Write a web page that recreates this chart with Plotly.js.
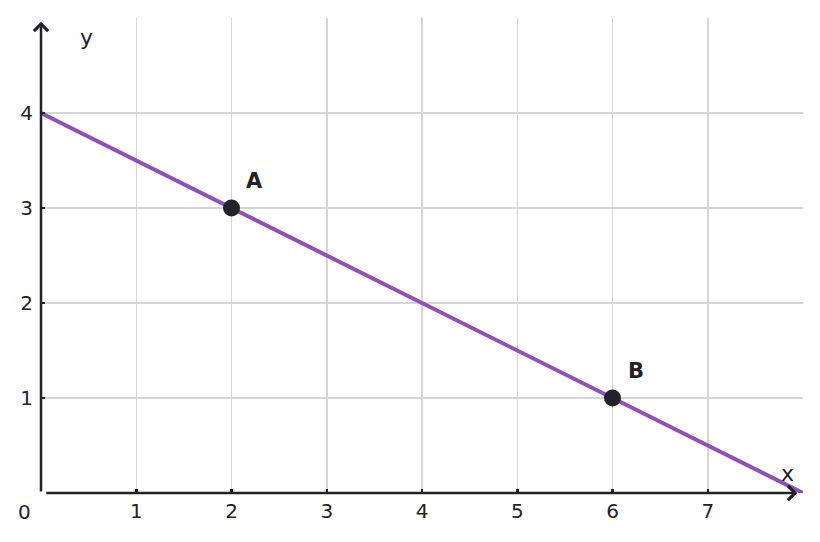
<!DOCTYPE html>
<html>
<head>
<meta charset="utf-8">
<script src="https://cdn.plot.ly/plotly-3.0.1.min.js"></script>
<style>html,body{margin:0;padding:0;background:#fff;}#chart{width:820px;height:542px;}</style>
</head>
<body>
<div id="chart"></div>
<script>
// Line y = -0.5x + 4 drawn through its endpoints
const lineX = [0, 8];
const lineY = [4, 0];
// Labelled points
const pointNames = ["A", "B"];
const pointX = [2, 6];
const pointY = [3, 1];
// Tick labels
const xTicks = [1, 2, 3, 4, 5, 6, 7];
const yTicks = [1, 2, 3, 4];

const purple = "#9050b8";
const dark = "#222228";
const font = "DejaVu Sans, Verdana, sans-serif";

const traces = [
  {x: lineX, y: lineY, mode: "lines", line: {color: purple, width: 4}, hoverinfo: "skip"},
  {x: pointX, y: pointY, mode: "markers", marker: {color: dark, size: 17}, hoverinfo: "skip"}
];

const annotations = [
  // y axis arrow
  {x: 0, y: 4.96, ax: 0, ay: 0, xref: "x", yref: "y", axref: "x", ayref: "y", showarrow: true,
   arrowhead: 4, arrowsize: 1.1, arrowwidth: 2.5, arrowcolor: dark, text: "", standoff: 0, startstandoff: 0},
  // x axis arrow
  {x: 7.94, y: 0, ax: 0.04, ay: 0, xref: "x", yref: "y", axref: "x", ayref: "y", showarrow: true,
   arrowhead: 4, arrowsize: 1.1, arrowwidth: 2.5, arrowcolor: dark, text: "", standoff: 0, startstandoff: 0},
  {x: 0.48, y: 4.8, xref: "x", yref: "y", text: "y", showarrow: false, font: {family: font, size: 22, color: dark}},
  {x: 7.84, y: 0.21, xref: "x", yref: "y", text: "x", showarrow: false, font: {family: font, size: 22, color: dark}},
  {x: 0, y: 0, xref: "x", yref: "y", xshift: -17, yshift: -19, text: "0", showarrow: false, font: {family: font, size: 20, color: dark}}
];
pointNames.forEach((n, i) => {
  annotations.push({x: pointX[i], y: pointY[i], xref: "x", yref: "y", xshift: 23, yshift: 27,
    text: "<b>" + n + "</b>", showarrow: false, font: {family: font, size: 21, color: dark}});
});

const layout = {
  width: 820, height: 542,
  margin: {l: 41, r: 17, t: 18, b: 49},
  paper_bgcolor: "#fff", plot_bgcolor: "#fff",
  showlegend: false,
  font: {family: font, size: 20, color: dark},
  xaxis: {range: [0, 8], tickvals: xTicks, ticktext: xTicks.map(String), showgrid: true, gridcolor: "#d6d6d6", gridwidth: 1.5,
    zeroline: false, showline: false, ticks: "inside", ticklen: 4, tickwidth: 2.5, tickcolor: dark, ticklabelstandoff: 4, fixedrange: true,
    tickfont: {family: font, size: 20, color: dark}},
  yaxis: {range: [0, 5], tickvals: yTicks, ticktext: yTicks.map(String), showgrid: true, gridcolor: "#d6d6d6", gridwidth: 1.5,
    zeroline: false, showline: false, ticks: "inside", ticklen: 4, tickwidth: 2.5, tickcolor: dark, ticklabelstandoff: 7, fixedrange: true,
    tickfont: {family: font, size: 20, color: dark}},
  annotations: annotations
};

Plotly.newPlot("chart", traces, layout, {staticPlot: true, displayModeBar: false});
</script>
</body>
</html>
